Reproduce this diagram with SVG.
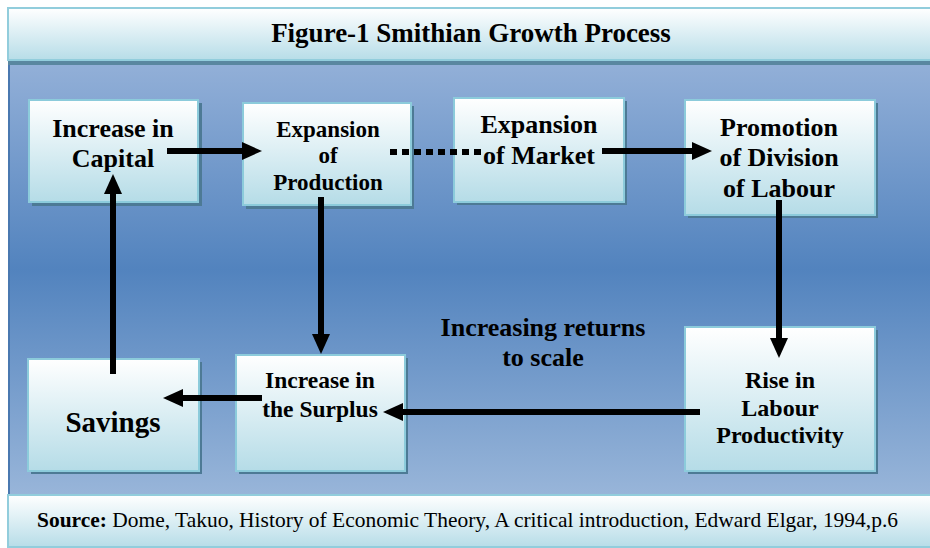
<svg xmlns="http://www.w3.org/2000/svg" width="930" height="548" viewBox="0 0 930 548">
<defs>
  <linearGradient id="bg" x1="0" y1="0" x2="0" y2="1">
    <stop offset="0" stop-color="#93b0d8"/>
    <stop offset="0.48" stop-color="#5283be"/>
    <stop offset="1" stop-color="#98b5d9"/>
  </linearGradient>
  <linearGradient id="boxg" x1="0" y1="0" x2="0" y2="1">
    <stop offset="0" stop-color="#ffffff"/>
    <stop offset="1" stop-color="#b5dce7"/>
  </linearGradient>
  <linearGradient id="bar" x1="0" y1="0" x2="0" y2="1">
    <stop offset="0" stop-color="#ffffff"/>
    <stop offset="1" stop-color="#b7dde8"/>
  </linearGradient>
  <marker id="ah" markerWidth="20" markerHeight="18" refX="8" refY="9" orient="auto" markerUnits="userSpaceOnUse">
    <path d="M0,0 L20,9 L0,18 Z" fill="#000"/>
  </marker>
</defs>
<style>
  .box{fill:url(#boxg);stroke:#8ccbdb;stroke-width:2}
  .sh{fill:#4d7a95}
  .f{font-family:'Liberation Serif','DejaVu Serif','Times New Roman',serif}
  .t{font-family:'Liberation Serif','DejaVu Serif','Times New Roman',serif;font-weight:bold;fill:#000;text-anchor:middle}
  .c{stroke:#000;stroke-width:6;fill:none}
</style>
<rect x="0" y="0" width="930" height="548" fill="#ffffff"/>
<rect x="8" y="62" width="922" height="432" fill="url(#bg)"/>
<rect x="8" y="62" width="2" height="432" fill="#4a78b0"/>
<g id="title">
  <rect x="8" y="60" width="922" height="5" fill="#5a87a0"/>
  <rect x="8" y="8" width="930" height="52" fill="url(#bar)" stroke="#92cddc" stroke-width="2"/>
  <text class="t" x="471" y="42" font-size="27">Figure-1 Smithian Growth Process</text>
</g>
<g id="source">
  <rect x="8" y="495" width="930" height="52" fill="url(#bar)" stroke="#92cddc" stroke-width="2"/>
  <text class="f" x="37" y="527" font-size="21" fill="#000" textLength="861" lengthAdjust="spacingAndGlyphs"><tspan font-weight="bold">Source:</tspan> Dome, Takuo, History of Economic Theory, A critical introduction, Edward Elgar, 1994,p.6</text>
</g>

<g id="n-capital">
  <rect class="sh" x="32" y="103" width="170" height="103"/>
  <rect class="box" x="29" y="100" width="169" height="102"/>
  <text class="t" font-size="26"><tspan x="113" y="137">Increase in</tspan><tspan x="113" y="167">Capital</tspan></text>
</g>
<g id="n-production">
  <rect class="sh" x="246" y="106" width="168" height="103"/>
  <rect class="box" x="243" y="103" width="168" height="102"/>
  <text class="t" font-size="23"><tspan x="328" y="137">Expansion</tspan><tspan x="328" y="163">of</tspan><tspan x="328" y="190">Production</tspan></text>
</g>
<g id="n-market">
  <rect class="sh" x="457" y="101" width="170" height="104"/>
  <rect class="box" x="454" y="98" width="170" height="104"/>
  <text class="t" font-size="26"><tspan x="539" y="133">Expansion</tspan><tspan x="539" y="164">of Market</tspan></text>
</g>
<g id="n-division">
  <rect class="sh" x="688" y="103" width="190" height="115"/>
  <rect class="box" x="685" y="100" width="190" height="115"/>
  <text class="t" font-size="26"><tspan x="779" y="136">Promotion</tspan><tspan x="779" y="166">of Division</tspan><tspan x="779" y="197">of Labour</tspan></text>
</g>
<g id="n-savings">
  <rect class="sh" x="31" y="362" width="171" height="112"/>
  <rect class="box" x="28" y="359" width="171" height="112"/>
  <text class="t" font-size="29" x="113" y="432">Savings</text>
</g>
<g id="n-surplus">
  <rect class="sh" x="239" y="358" width="169" height="116"/>
  <rect class="box" x="236" y="355" width="169" height="116"/>
  <text class="t" font-size="23.5"><tspan x="320" y="388">Increase in</tspan><tspan x="320" y="417">the Surplus</tspan></text>
</g>
<g id="n-rise">
  <rect class="sh" x="688" y="330" width="190" height="144"/>
  <rect class="box" x="685" y="327" width="190" height="144"/>
  <text class="t" font-size="24"><tspan x="780" y="388">Rise in</tspan><tspan x="780" y="416">Labour</tspan><tspan x="780" y="443">Productivity</tspan></text>
</g>
<g id="label-irs">
  <text class="t" font-size="26"><tspan x="543" y="336">Increasing returns</tspan><tspan x="543" y="366">to scale</tspan></text>
</g>

<g id="connectors">
  <line class="c" x1="167" y1="151" x2="250" y2="151" marker-end="url(#ah)"/>
  <line class="c" x1="390" y1="152" x2="483" y2="152" stroke-dasharray="7,5"/>
  <line class="c" x1="602" y1="151" x2="700" y2="151" marker-end="url(#ah)"/>
  <line class="c" x1="779" y1="200" x2="779" y2="346" marker-end="url(#ah)"/>
  <line class="c" x1="321" y1="197" x2="321" y2="342" marker-end="url(#ah)"/>
  <line class="c" x1="700" y1="412" x2="395" y2="412" marker-end="url(#ah)"/>
  <line class="c" x1="262" y1="398" x2="175" y2="398" marker-end="url(#ah)"/>
  <line class="c" x1="113" y1="374" x2="113" y2="186" marker-end="url(#ah)"/>
</g>
</svg>
